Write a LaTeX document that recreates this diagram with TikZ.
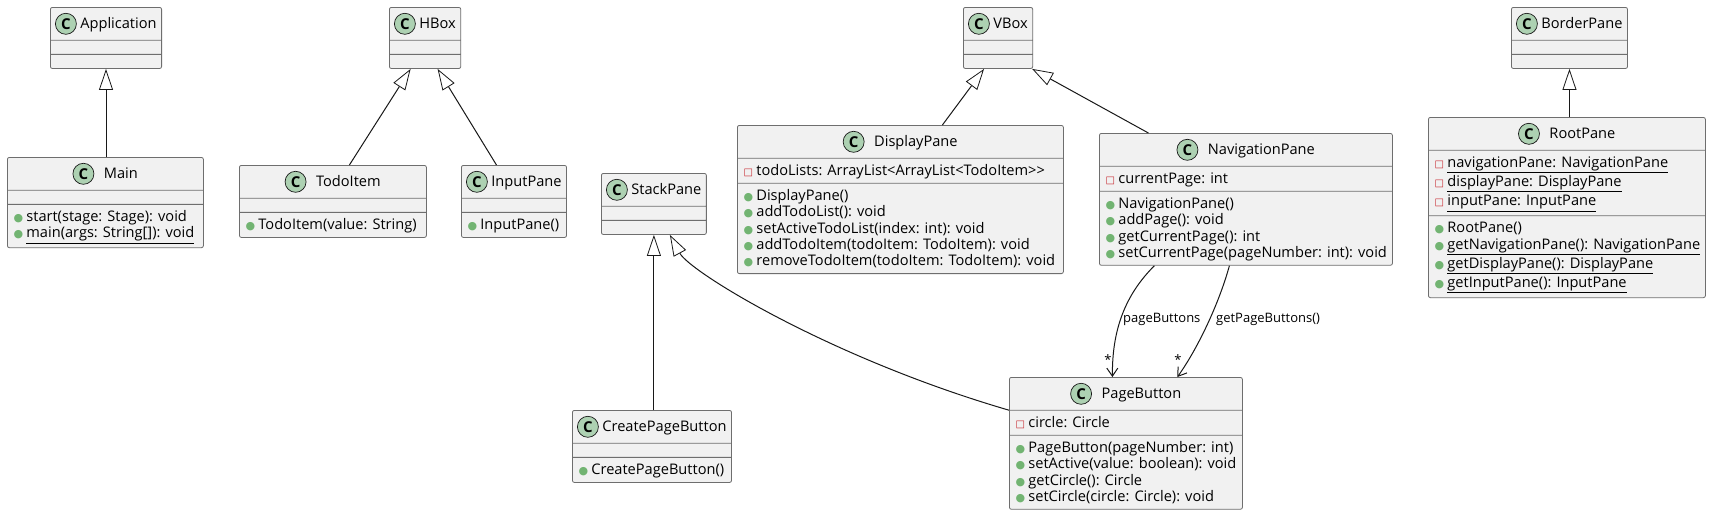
\documentclass[tikz,border=0pt]{standalone}
\usepackage{fontspec}
\setmainfont{Open Sans}
\newfontfamily\symfont{DejaVu Sans}
\usetikzlibrary{arrows.meta,shapes.multipart,calc}
\definecolor{boxfill}{HTML}{F1F1F1}
\definecolor{boxline}{HTML}{6E6E6E}
\definecolor{iconfill}{HTML}{ADD1B2}
\definecolor{pubfill}{HTML}{72B472}
\definecolor{privline}{HTML}{C82930}
\definecolor{edgeline}{HTML}{181818}
\newcommand\mstrut{\rule[-3.55pt]{0pt}{16.3pt}}
\newcommand\hstrut{\rule[-7pt]{0pt}{24pt}}
\newcommand\pub{\makebox[12pt]{\symfont\fontsize{11}{11}\selectfont\color{pubfill}●}\hspace*{2pt}\mstrut}
\newcommand\priv{\makebox[12pt]{\symfont\fontsize{10}{10}\selectfont\color{privline}□}\hspace*{2pt}\mstrut}
\newcommand\narrowtitle[1]{\hspace*{25pt}#1\hstrut}
\newcommand\widetitle[1]{\hspace*{31pt}#1\hstrut}
\tikzset{
    umlclass/.style={rectangle split, rectangle split parts=3, draw=boxline, fill=boxfill,
      line width=0.8pt, rounded corners=2pt, rectangle split part align={center,left,left},
      rectangle split empty part height=0pt, rectangle split empty part depth=0pt,
      rectangle split empty part width=0pt,
      inner xsep=5pt, inner ysep=4pt, align=left, anchor=north west,
      font=\fontsize{14.6}{16.3}\selectfont},
    cicon/.style={circle, draw=edgeline, fill=iconfill, minimum size=21pt, inner sep=0pt,
      line width=0.7pt, font=\fontsize{15}{15}\selectfont\bfseries},
    inherit/.style={draw=edgeline, line width=1pt, -{Triangle[length=21pt,width=14pt,fill=white,line width=0.8pt]}},
    assoc/.style={draw=edgeline, line width=1pt, -{Straight Barb[length=8pt,width=11pt]}},
    elabel/.style={font=\fontsize{13}{13}\selectfont, inner sep=0pt, anchor=west},
    mult/.style={font=\fontsize{13}{13}\selectfont, inner sep=0pt},
  }

\begin{document}
\begin{tikzpicture}[x=1pt, y=-1pt]
  \path[use as bounding box, fill=white] (0,0) rectangle (1711,512);

  \node (application) [umlclass, minimum width=110pt] at (50,7)
    {\narrowtitle{Application} \nodepart{two} \nodepart{three}};
  \node (main) [umlclass, minimum width=196pt] at (7,157)
    {\widetitle{Main} \nodepart{two} \nodepart{three}
     \pub start(stage: Stage): void\\ \pub\underline{main(args: String[]): void}};
  \node (hbox) [umlclass, minimum width=67pt] at (389,7)
    {\narrowtitle{HBox} \nodepart{two} \nodepart{three}};
  \node (todoitem) [umlclass, minimum width=187pt] at (239,165)
    {\widetitle{TodoItem} \nodepart{two} \nodepart{three} \pub TodoItem(value: String)};
  \node (inputpane) [umlclass, minimum width=105pt] at (461,165)
    {\narrowtitle{InputPane} \nodepart{two} \nodepart{three} \pub InputPane()};
  \node (stackpane) [umlclass, minimum width=100pt] at (601,173)
    {\narrowtitle{StackPane} \nodepart{two} \nodepart{three}};
  \node (vbox) [umlclass, minimum width=66pt] at (963,7)
    {\narrowtitle{VBox} \nodepart{two} \nodepart{three}};
  \node (displaypane) [umlclass, minimum width=326pt] at (737,125)
    {\widetitle{DisplayPane}
     \nodepart{two} \priv todoLists: ArrayList<ArrayList<TodoItem>{}>
     \nodepart{three} \pub DisplayPane()\\ \pub addTodoList(): void\\
     \pub setActiveTodoList(index: int): void\\ \pub addTodoItem(todoItem: TodoItem): void\\
     \pub removeTodoItem(todoItem: TodoItem): void};
  \node (navigationpane) [umlclass, minimum width=293pt] at (1099,133)
    {\widetitle{NavigationPane}
     \nodepart{two} \priv currentPage: int
     \nodepart{three} \pub NavigationPane()\\ \pub addPage(): void\\
     \pub getCurrentPage(): int\\ \pub setCurrentPage(pageNumber: int): void};
  \node (borderpane) [umlclass, minimum width=110pt] at (1511,7)
    {\narrowtitle{BorderPane} \nodepart{two} \nodepart{three}};
  \node (rootpane) [umlclass, minimum width=277pt] at (1428,117)
    {\widetitle{RootPane}
     \nodepart{two} \priv\underline{navigationPane: NavigationPane}\\
     \priv\underline{displayPane: DisplayPane}\\ \priv\underline{inputPane: InputPane}
     \nodepart{three} \pub RootPane()\\ \pub\underline{getNavigationPane(): NavigationPane}\\
     \pub\underline{getDisplayPane(): DisplayPane}\\ \pub\underline{getInputPane(): InputPane}};
  \node (createpagebutton) [umlclass, minimum width=158pt] at (572,410)
    {\narrowtitle{CreatePageButton} \nodepart{two} \nodepart{three} \pub CreatePageButton()};
  \node (pagebutton) [umlclass, minimum width=233pt] at (1009,377)
    {\widetitle{PageButton}
     \nodepart{two} \priv circle: Circle
     \nodepart{three} \pub PageButton(pageNumber: int)\\ \pub setActive(value: boolean): void\\
     \pub getCircle(): Circle\\ \pub setCircle(circle: Circle): void};

  \foreach \cls in {application, main, hbox, todoitem, inputpane, stackpane, vbox,
      displaypane, navigationpane, borderpane, rootpane, createpagebutton, pagebutton}
    \node (\cls C) [cicon] at ($(\cls.text)+(10.5,-5)$) {C};

  \draw[inherit] (application.south |- main.north) -- (application.south);
  \draw[inherit] ([xshift=16.5pt]todoitem.north) -- ([xshift=-14.5pt]hbox.south);
  \draw[inherit] ([xshift=-17.5pt]inputpane.north) -- ([xshift=12.5pt]hbox.south);
  \draw[inherit] ([xshift=42pt]displaypane.north) -- ([xshift=-14pt]vbox.south);
  \draw[inherit] ([xshift=-97.5pt]navigationpane.north) -- ([xshift=-1pt]vbox.south east);
  \draw[inherit] (borderpane.south |- rootpane.north) -- (borderpane.south);
  \draw[inherit] (stackpane.south |- createpagebutton.north) -- (stackpane.south);
  \draw[inherit] (pagebutton.text split west) .. controls (830,358) and (690,272)
    .. ([xshift=16pt]stackpane.south);

  \draw[assoc] ([xshift=-91.5pt]navigationpane.south) .. controls (1125,295) and (1112,330)
    .. ([xshift=-13.5pt]pagebutton.north);
  \draw[assoc] ([xshift=-16.5pt]navigationpane.south) .. controls (1220,300) and (1200,345)
    .. ([xshift=51.5pt]pagebutton.north);
  \node (pbtnlabel) [elabel] at (1123,319) {pageButtons};
  \node (getpbtnlabel) [elabel] at (1216,319) {getPageButtons()};
  \node (pbtnmult) [mult] at (1108,360) {*};
  \node (getpbtnmult) [mult] at (1178,360) {*};
\end{tikzpicture}
\end{document}
